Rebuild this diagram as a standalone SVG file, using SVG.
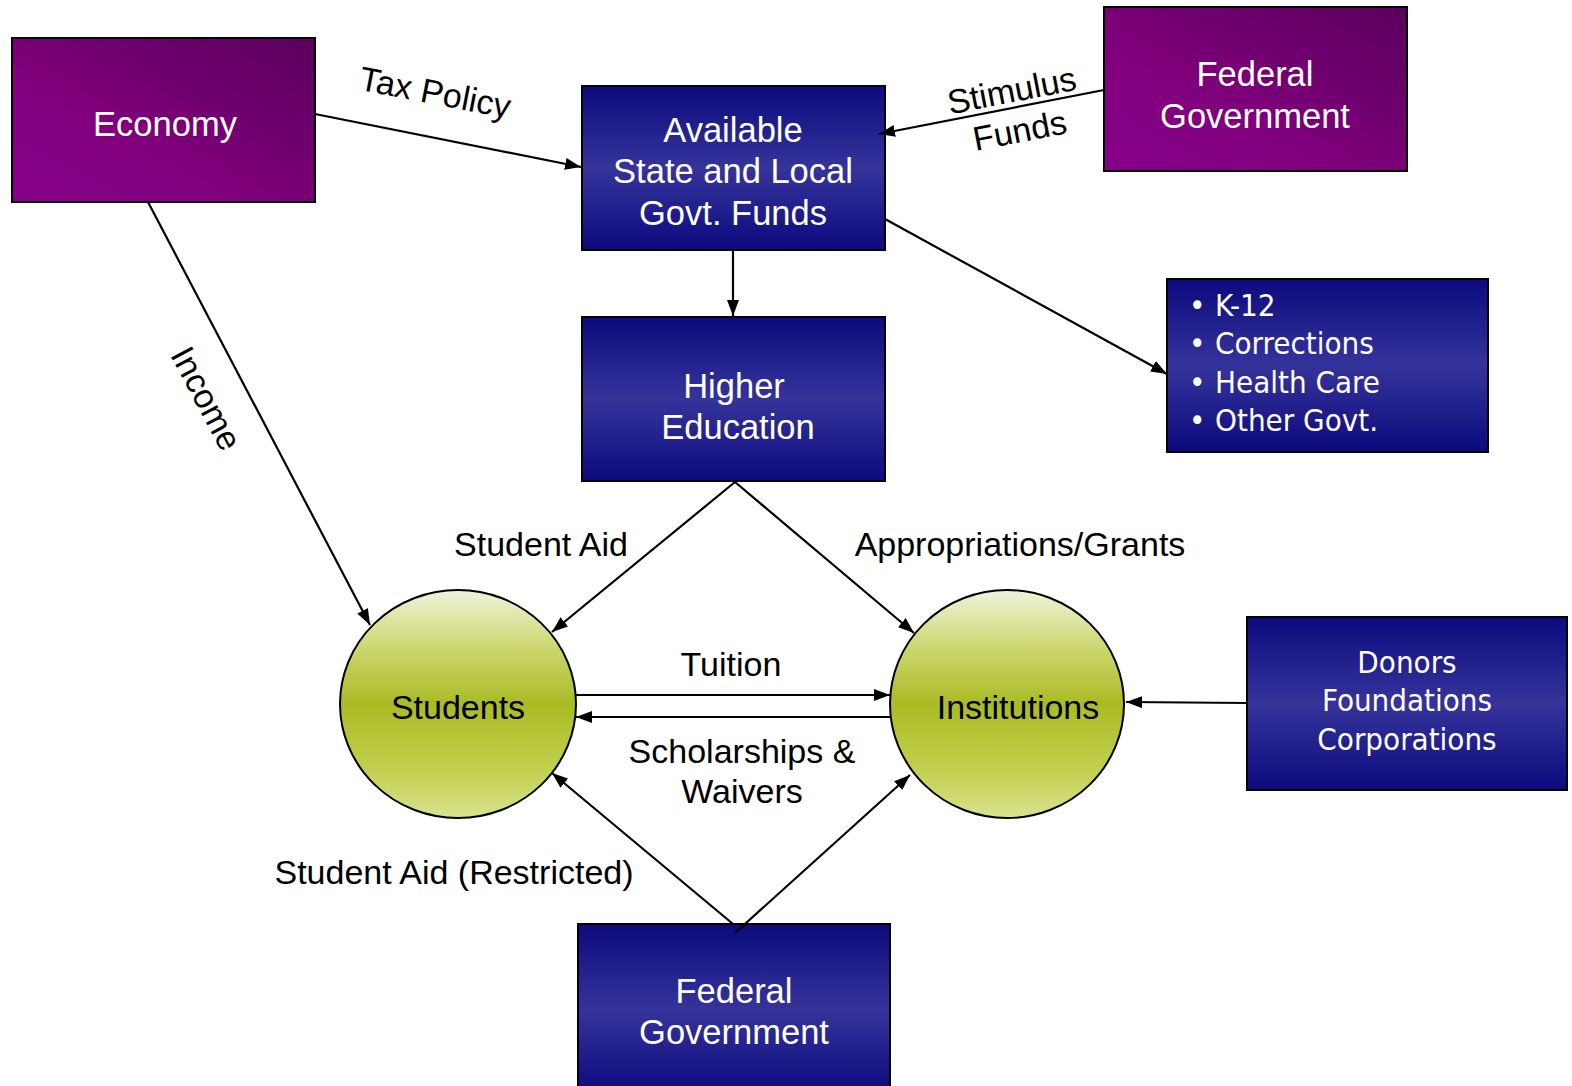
<svg xmlns="http://www.w3.org/2000/svg" width="1572" height="1086" viewBox="0 0 1572 1086">
<defs>
<linearGradient id="purple" x1="0" y1="1" x2="1" y2="0">
<stop offset="0" stop-color="#86008a"/>
<stop offset="0.35" stop-color="#82007e"/>
<stop offset="1" stop-color="#5a005c"/>
</linearGradient>
<linearGradient id="blue" x1="0" y1="0" x2="0" y2="1">
<stop offset="0" stop-color="#0c0a7e"/>
<stop offset="0.5" stop-color="#36349a"/>
<stop offset="1" stop-color="#0c0a7e"/>
</linearGradient>
<linearGradient id="green" x1="0" y1="0" x2="0" y2="1">
<stop offset="0" stop-color="#f0f3dc"/>
<stop offset="0.25" stop-color="#cdd770"/>
<stop offset="0.5" stop-color="#aabb24"/>
<stop offset="0.8" stop-color="#c4d050"/>
<stop offset="1" stop-color="#d8e290"/>
</linearGradient>
<marker id="arr" viewBox="0 0 16 12" refX="16" refY="6" markerWidth="16" markerHeight="12" markerUnits="userSpaceOnUse" orient="auto">
<path d="M0,0 L16,6 L0,12 Z" fill="#000"/>
</marker>
<style>
.box{stroke:#000;stroke-width:2}
.wt{fill:#fff;font-family:"Liberation Sans",Arial,sans-serif;font-size:34.5px;text-anchor:middle}
.wt2{fill:#fff;font-family:"DejaVu Sans Condensed","DejaVu Sans",sans-serif;font-size:31px}
.bt{fill:#000;font-family:"Liberation Sans",Arial,sans-serif;font-size:34px;text-anchor:middle}
.ln{stroke:#000;stroke-width:2.2;fill:none}
</style>
</defs>

<g id="economy">
<rect class="box" x="12" y="38" width="303" height="164" fill="url(#purple)"/>
<text class="wt" x="165" y="136">Economy</text>
</g>

<g id="available-funds">
<rect class="box" x="582" y="86" width="303" height="164" fill="url(#blue)"/>
<text class="wt" x="733" y="142">Available</text>
<text class="wt" x="733" y="183">State and Local</text>
<text class="wt" x="733" y="225">Govt. Funds</text>
</g>

<g id="federal-top">
<rect class="box" x="1104" y="7" width="303" height="164" fill="url(#purple)"/>
<text class="wt" x="1255" y="86">Federal</text>
<text class="wt" x="1255" y="128">Government</text>
</g>

<g id="other-govt">
<rect class="box" x="1167" y="279" width="321" height="173" fill="url(#blue)"/>
<text class="wt2" x="1189" y="316">•</text><text class="wt2" x="1215" y="316">K-12</text>
<text class="wt2" x="1189" y="354">•</text><text class="wt2" x="1215" y="354">Corrections</text>
<text class="wt2" x="1189" y="393">•</text><text class="wt2" x="1215" y="393">Health Care</text>
<text class="wt2" x="1189" y="431">•</text><text class="wt2" x="1215" y="431">Other Govt.</text>
</g>

<g id="higher-education">
<rect class="box" x="582" y="317" width="303" height="164" fill="url(#blue)"/>
<text class="wt" x="734" y="398">Higher</text>
<text class="wt" x="738" y="439">Education</text>
</g>

<g id="students">
<ellipse cx="458" cy="704" rx="118" ry="114" fill="url(#green)" stroke="#000" stroke-width="2"/>
<text class="bt" x="458" y="719">Students</text>
</g>

<g id="institutions">
<ellipse cx="1007" cy="704" rx="117" ry="114" fill="url(#green)" stroke="#000" stroke-width="2"/>
<text class="bt" x="1018" y="719">Institutions</text>
</g>

<g id="donors">
<rect class="box" x="1247" y="617" width="320" height="173" fill="url(#blue)"/>
<text class="wt2" x="1407" y="673" text-anchor="middle">Donors</text>
<text class="wt2" x="1407" y="711" text-anchor="middle">Foundations</text>
<text class="wt2" x="1407" y="750" text-anchor="middle">Corporations</text>
</g>

<g id="federal-bottom">
<rect class="box" x="578" y="924" width="312" height="170" fill="url(#blue)"/>
<text class="wt" x="734" y="1003">Federal</text>
<text class="wt" x="734" y="1044">Government</text>
</g>

<g id="connectors">
<line class="ln" x1="315" y1="114" x2="581" y2="167" marker-end="url(#arr)"/>
<line class="ln" x1="1104" y1="90" x2="879" y2="134" marker-end="url(#arr)"/>
<line class="ln" x1="733" y1="250" x2="733" y2="316" marker-end="url(#arr)"/>
<line class="ln" x1="885" y1="219" x2="1167" y2="374" marker-end="url(#arr)"/>
<line class="ln" x1="148" y1="202" x2="370" y2="625" marker-end="url(#arr)"/>
<line class="ln" x1="735" y1="482" x2="552" y2="632" marker-end="url(#arr)"/>
<line class="ln" x1="735" y1="482" x2="914" y2="633" marker-end="url(#arr)"/>
<line class="ln" x1="576" y1="695" x2="890" y2="695" marker-end="url(#arr)"/>
<line class="ln" x1="890" y1="717" x2="576" y2="717" marker-end="url(#arr)"/>
<line class="ln" x1="1247" y1="703" x2="1126" y2="702" marker-end="url(#arr)"/>
<line class="ln" x1="733" y1="924" x2="552" y2="773" marker-end="url(#arr)"/>
<line class="ln" x1="735" y1="933" x2="910" y2="775" marker-end="url(#arr)"/>
<text class="bt" transform="translate(433,104) rotate(11)">Tax Policy</text>
<text class="bt" transform="translate(1014,102) rotate(-11)">Stimulus</text>
<text class="bt" transform="translate(1022,142) rotate(-11)">Funds</text>
<text class="bt" transform="translate(196,404) rotate(62)">Income</text>
<text class="bt" x="541" y="556">Student Aid</text>
<text class="bt" x="1020" y="556">Appropriations/Grants</text>
<text class="bt" x="731" y="676">Tuition</text>
<text class="bt" x="742" y="763">Scholarships &amp;</text>
<text class="bt" x="742" y="803">Waivers</text>
<text class="bt" x="454" y="884">Student Aid (Restricted)</text>
</g>
</svg>
